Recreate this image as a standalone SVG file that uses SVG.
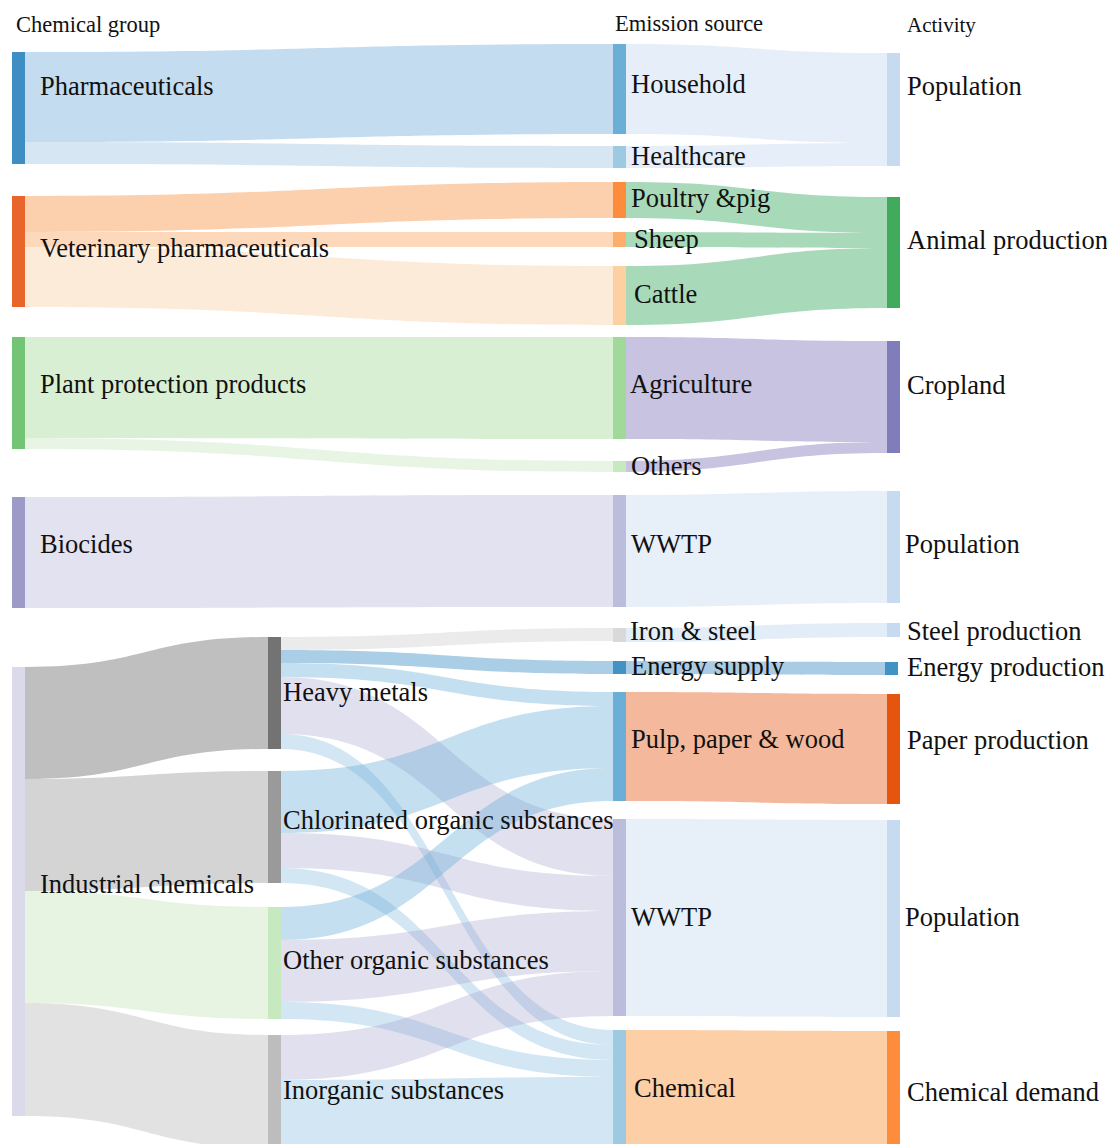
<svg xmlns="http://www.w3.org/2000/svg" width="1107" height="1144" viewBox="0 0 1107 1144">
<style>
text{font-family:"Liberation Serif","Times New Roman",serif;fill:#111;}
.lb{font-size:26.5px;}
.hd{font-size:22.5px;}
.fb{fill:rgba(107,174,214,0.4);}
.fc{fill:rgba(107,174,214,0.3);}
.fw{fill:rgba(158,154,200,0.31);}
.fe{fill:rgba(66,146,198,0.45);}
.fg{fill:rgba(189,189,189,0.3);}
</style>
<rect width="1107" height="1144" fill="#fff"/>
<g id="connectors">
<path d="M25,52 C319,52 319,44 613,44 L613,134 C319,134 319,142 25,142 Z" fill="#c3dcef"/>
<path d="M25,142 C319,142 319,146 613,146 L613,168 C319,168 319,164 25,164 Z" fill="#d6e7f3"/>
<path d="M25,196 C319,196 319,182 613,182 L613,218 C319,218 319,232 25,232 Z" fill="#fdd0ad"/>
<path d="M25,232 C319,232 319,232 613,232 L613,247 C319,247 319,247 25,247 Z" fill="#fdd8ba"/>
<path d="M25,247 C319,247 319,266 613,266 L613,325 C319,325 319,307 25,307 Z" fill="#fdebd9"/>
<path d="M25,337 C319,337 319,337 613,337 L613,439 C319,439 319,438 25,438 Z" fill="#d8efd3"/>
<path d="M25,438 C319,438 319,461 613,461 L613,472 C319,472 319,449 25,449 Z" fill="#e8f5e5"/>
<path d="M25,497 C319,497 319,495 613,495 L613,607 C319,607 319,608 25,608 Z" fill="#e3e2f0"/>
<path d="M626,44 C756,44 756,53 887,53 L887,143 C756,143 756,134 626,134 Z" fill="#e6eff9"/>
<path d="M626,146 C756,146 756,143 887,143 L887,166 C756,166 756,168 626,168 Z" fill="#e6eff9"/>
<path d="M626,182 C756,182 756,197 887,197 L887,233 C756,233 756,218 626,218 Z" fill="#a8dab9"/>
<path d="M626,232 C756,232 756,233 887,233 L887,248 C756,248 756,247 626,247 Z" fill="#a8dab9"/>
<path d="M626,266 C756,266 756,248 887,248 L887,308 C756,308 756,325 626,325 Z" fill="#a8dab9"/>
<path d="M626,337 C756,337 756,341 887,341 L887,442 C756,442 756,439 626,439 Z" fill="#c7c3e1"/>
<path d="M626,461 C756,461 756,442 887,442 L887,453 C756,453 756,472 626,472 Z" fill="#c7c3e1"/>
<path d="M626,495 C756,495 756,491 887,491 L887,603 C756,603 756,607 626,607 Z" fill="#e7eff9"/>
<path d="M626,628 C756,628 756,623 887,623 L887,637 C756,637 756,642 626,642 Z" fill="#e3edf8"/>
<path d="M626,661 C756,661 756,662 887,662 L887,675 C756,675 756,674 626,674 Z" fill="#a9cce4"/>
<path d="M626,692 C756,692 756,694 887,694 L887,804 C756,804 756,801 626,801 Z" fill="#f4b99c"/>
<path d="M626,819 C756,819 756,820 887,820 L887,1017 C756,1017 756,1016 626,1016 Z" fill="#e7eff9"/>
<path d="M626,1030 C756,1030 756,1031 887,1031 L887,1150 C756,1150 756,1150 626,1150 Z" fill="#fdcfa7"/>
<path d="M25,667 C146,667 146,637 268,637 L268,749 C146,749 146,779 25,779 Z" fill="#bfbfbf"/>
<path d="M25,779 C146,779 146,771 268,771 L268,883 C146,883 146,891 25,891 Z" fill="#d4d4d4"/>
<path d="M25,891 C146,891 146,907 268,907 L268,1019 C146,1019 146,1003 25,1003 Z" fill="#e6f4e1"/>
<path d="M25,1003 C146,1003 146,1035 268,1035 L268,1148 C146,1148 146,1116 25,1116 Z" fill="#e2e2e2"/>
<path class="fg" d="M281,637 C447,637 447,628 613,628 L613,641 C447,641 447,650 281,650 Z"/>
<path class="fe" d="M281,650 C447,650 447,661 613,661 L613,674 C447,674 447,663 281,663 Z"/>
<path class="fb" d="M281,663 C447,663 447,692 613,692 L613,706 C447,706 447,677 281,677 Z"/>
<path class="fw" d="M281,677 C447,677 447,819 613,819 L613,876 C447,876 447,734 281,734 Z"/>
<path class="fc" d="M281,734 C447,734 447,1030 613,1030 L613,1045 C447,1045 447,749 281,749 Z"/>
<path class="fb" d="M281,771 C447,771 447,706 613,706 L613,768 C447,768 447,833 281,833 Z"/>
<path class="fw" d="M281,833 C447,833 447,876 613,876 L613,911 C447,911 447,868 281,868 Z"/>
<path class="fc" d="M281,868 C447,868 447,1045 613,1045 L613,1060 C447,1060 447,883 281,883 Z"/>
<path class="fb" d="M281,907 C447,907 447,768 613,768 L613,801 C447,801 447,940 281,940 Z"/>
<path class="fw" d="M281,940 C447,940 447,911 613,911 L613,971 C447,971 447,1002 281,1002 Z"/>
<path class="fc" d="M281,1002 C447,1002 447,1060 613,1060 L613,1077 C447,1077 447,1019 281,1019 Z"/>
<path class="fw" d="M281,1035 C447,1035 447,971 613,971 L613,1016 C447,1016 447,1080 281,1080 Z"/>
<path class="fc" d="M281,1080 C447,1080 447,1077 613,1077 L613,1150 C447,1150 447,1150 281,1150 Z"/>
</g>
<g id="headers">
<text class="hd" x="16" y="32">Chemical group</text>
<text class="hd" x="615" y="31">Emission source</text>
<text class="hd" x="907" y="32" style="font-size:21px">Activity</text>
</g>
<g id="n-pharma"><rect x="12" y="52" width="13" height="112" fill="#3e8ec4"/><text class="lb" x="40" y="95">Pharmaceuticals</text></g>
<g id="n-vet"><rect x="12" y="196" width="13" height="111" fill="#e8662b"/><text class="lb" x="40" y="257">Veterinary pharmaceuticals</text></g>
<g id="n-plant"><rect x="12" y="337" width="13" height="112" fill="#74c476"/><text class="lb" x="40" y="393">Plant protection products</text></g>
<g id="n-biocides"><rect x="12" y="497" width="13" height="111" fill="#9e9ac8"/><text class="lb" x="40" y="553">Biocides</text></g>
<g id="n-industrial"><rect x="12" y="667" width="13" height="449" fill="#dadaeb"/><text class="lb" x="40" y="893">Industrial chemicals</text></g>
<g id="n-heavy"><rect x="268" y="637" width="13" height="112" fill="#737373"/><text class="lb" x="283" y="701">Heavy metals</text></g>
<g id="n-chlor"><rect x="268" y="771" width="13" height="112" fill="#9a9a9a"/><text class="lb" x="283" y="829">Chlorinated organic substances</text></g>
<g id="n-other"><rect x="268" y="907" width="13" height="112" fill="#c7e9c0"/><text class="lb" x="283" y="969">Other organic substances</text></g>
<g id="n-inorg"><rect x="268" y="1035" width="13" height="113" fill="#bdbdbd"/><text class="lb" x="283" y="1099">Inorganic substances</text></g>
<g id="n-household"><rect x="613" y="44" width="13" height="90" fill="#6baed6"/><text class="lb" x="631" y="93">Household</text></g>
<g id="n-healthcare"><rect x="613" y="146" width="13" height="22" fill="#9ecae1"/><text class="lb" x="631" y="165">Healthcare</text></g>
<g id="n-poultry"><rect x="613" y="182" width="13" height="36" fill="#fd8d3c"/><text class="lb" x="631" y="207">Poultry &amp;pig</text></g>
<g id="n-sheep"><rect x="613" y="232" width="13" height="15" fill="#fdae6b"/><text class="lb" x="634" y="248">Sheep</text></g>
<g id="n-cattle"><rect x="613" y="266" width="13" height="59" fill="#fdd0a2"/><text class="lb" x="634" y="303">Cattle</text></g>
<g id="n-agri"><rect x="613" y="337" width="13" height="102" fill="#a1d99b"/><text class="lb" x="630" y="393">Agriculture</text></g>
<g id="n-others"><rect x="613" y="461" width="13" height="11" fill="#c7e9c0"/><text class="lb" x="631" y="475">Others</text></g>
<g id="n-wwtp1"><rect x="613" y="495" width="13" height="112" fill="#bcbddc"/><text class="lb" x="631" y="553">WWTP</text></g>
<g id="n-iron"><rect x="613" y="628" width="13" height="14" fill="#d9d9d9"/><text class="lb" x="630" y="640">Iron &amp; steel</text></g>
<g id="n-energy"><rect x="613" y="661" width="13" height="13" fill="#4292c6"/><text class="lb" x="631" y="675">Energy supply</text></g>
<g id="n-pulp"><rect x="613" y="692" width="13" height="109" fill="#6baed6"/><text class="lb" x="631" y="748">Pulp, paper &amp; wood</text></g>
<g id="n-wwtp2"><rect x="613" y="819" width="13" height="197" fill="#bcbddc"/><text class="lb" x="631" y="926">WWTP</text></g>
<g id="n-chemical"><rect x="613" y="1030" width="13" height="120" fill="#9ecae1"/><text class="lb" x="634" y="1097">Chemical</text></g>
<g id="n-pop1"><rect x="887" y="53" width="13" height="113" fill="#c6dbef"/><text class="lb" x="907" y="95">Population</text></g>
<g id="n-animal"><rect x="887" y="197" width="13" height="111" fill="#41ab5d"/><text class="lb" x="907" y="249">Animal production</text></g>
<g id="n-cropland"><rect x="887" y="341" width="13" height="112" fill="#807dba"/><text class="lb" x="907" y="394">Cropland</text></g>
<g id="n-pop2"><rect x="887" y="491" width="13" height="112" fill="#c6dbef"/><text class="lb" x="905" y="553">Population</text></g>
<g id="n-steel"><rect x="887" y="623" width="13" height="14" fill="#c6dbef"/><text class="lb" x="907" y="640">Steel production</text></g>
<g id="n-energyprod"><rect x="885" y="662" width="13" height="13" fill="#4292c6"/><text class="lb" x="907" y="676">Energy production</text></g>
<g id="n-paper"><rect x="887" y="694" width="13" height="110" fill="#e6550d"/><text class="lb" x="907" y="749">Paper production</text></g>
<g id="n-pop3"><rect x="887" y="820" width="13" height="197" fill="#c6dbef"/><text class="lb" x="905" y="926">Population</text></g>
<g id="n-chemdemand"><rect x="887" y="1031" width="13" height="120" fill="#fd8d3c"/><text class="lb" x="907" y="1101">Chemical demand</text></g>
</svg>
